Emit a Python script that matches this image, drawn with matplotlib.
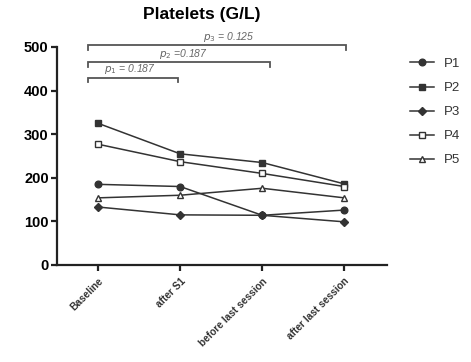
import matplotlib
matplotlib.use("Agg")
import matplotlib.pyplot as plt

plt.rcParams['font.family'] = ['Liberation Sans', 'DejaVu Sans']

categories = ["Baseline", "after S1", "before last session", "after last session"]
series_names = ["P1", "P2", "P3", "P4", "P5"]
P1 = [185, 180, 114, 126]
P2 = [325, 255, 235, 186]
P3 = [133, 115, 114, 99]
P4 = [277, 237, 210, 180]
P5 = [154, 160, 176, 154]
values = [P1, P2, P3, P4, P5]
markers = ["o", "s", "D", "s", "^"]
fills = [True, True, True, False, False]

brackets = [(-0.12, 0.98, 430, "$p_1$ = 0.187", 0.39),
            (-0.12, 2.10, 466, "$p_2$ =0.187", 1.04),
            (-0.12, 3.02, 504, "$p_3$ = 0.125", 1.59)]

fig = plt.figure(figsize=(4.71, 3.62), dpi=100)
ax = fig.add_axes([57/471, 1-265/362, (387-57)/471, (265-47)/362])
x = list(range(len(categories)))
lc = "#333333"
for name, v, m, f in zip(series_names, values, markers, fills):
    ms = 4.8 if m != "D" else 4.0
    ax.plot(x, v, color=lc, lw=1.1, marker=m, markersize=ms,
            markerfacecolor=lc if f else "white", markeredgecolor=lc,
            markeredgewidth=1.0, label=name, clip_on=False, zorder=3)

bc = "#555555"
for x0, x1, y, txt, tx in brackets:
    ax.plot([x0, x0, x1, x1], [y - 11, y, y, y - 11], color=bc, lw=1.3,
            clip_on=False, solid_joinstyle="miter")
    ax.text(tx, y + 3, txt, ha="center", va="bottom", fontsize=7.5,
            style="italic", color="#666666", clip_on=False)

ax.set_xlim(-0.5, 3.52)
ax.set_ylim(0, 500)
ax.set_yticks([0, 100, 200, 300, 400, 500])
ax.set_xticks(x)
ax.set_xticklabels(categories, rotation=45, ha="right", va="top",
                   rotation_mode="anchor", fontsize=7.3, fontweight="bold",
                   color="#333333")
for lab in ax.get_yticklabels():
    lab.set_fontweight("bold")
    lab.set_fontsize(10.5)
ax.spines["top"].set_visible(False)
ax.spines["right"].set_visible(False)
for s in ("left", "bottom"):
    ax.spines[s].set_linewidth(1.6)
    ax.spines[s].set_color("#222222")
ax.tick_params(axis="both", width=1.6, length=4, color="#222222", pad=2)
ax.tick_params(axis="x", pad=4)

fig.text(202/471, 1-15/362, "Platelets (G/L)", fontsize=12.5, fontweight="bold",
         ha="center", va="center")

leg = ax.legend(loc="upper left", bbox_to_anchor=(1.035, 1.005), frameon=False,
                fontsize=9.5, handlelength=1.8, labelspacing=0.9,
                handletextpad=0.7)
for t in leg.get_texts():
    t.set_color("#333333")

fig.savefig("out.png", dpi=100)
